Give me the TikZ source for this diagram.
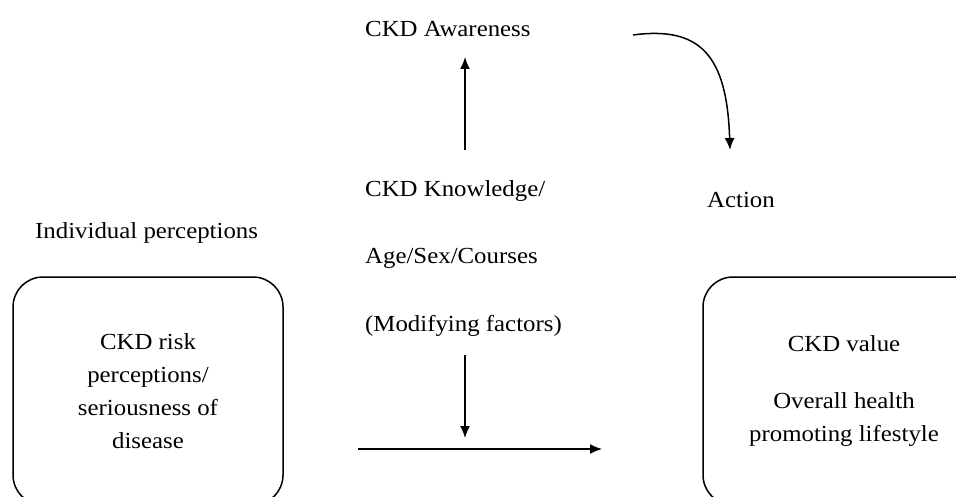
\documentclass[tikz,border=0pt]{standalone}
\usepackage{fontspec}
\setmainfont{Liberation Serif}[FakeStretch=1.08]
\usetikzlibrary{arrows.meta}
\tikzset{
	txt/.style={anchor=base west, inner sep=0pt, font=\fontsize{23}{33}\selectfont},
	roundbox/.style={draw, line width=1.5pt, rounded corners=30pt, align=center, font=\fontsize{23}{33}\selectfont},
	arr/.style={line width=1.5pt, -{Latex[length=12pt,width=10pt]}}
}

\begin{document}
\begin{tikzpicture}[x=1pt, y=-1pt]
		%%%%% START %%%%%
		\useasboundingbox (0, 0) rectangle (956, 497);
		
		\node[txt] (awareness) at (365, 37) {CKD Awareness};
		\node[txt] (knowledge) at (365, 197) {CKD Knowledge/};
		\node[txt] (demog) at (365, 264) {Age/Sex/Courses};
		\node[txt] (modif) at (365, 331) {(Modifying factors)};
		\node[txt] (action) at (707, 208) {Action};
		\node[txt] (indiv) at (35, 239) {Individual perceptions};
		
		\node[roundbox, minimum width=270, minimum height=228] (risk) at (148, 391)
			{CKD risk\\perceptions/\\seriousness of\\disease};
		\node[roundbox, minimum width=282, minimum height=228] (value) at (844, 391)
			{CKD value\\[24pt]Overall health\\promoting lifestyle};
		
		\coordinate (upfrom) at (465, 150);
		\coordinate (upto) at (465, 57);
		\coordinate (curvefrom) at (633, 35);
		\coordinate (curveto) at (730, 150);
		\coordinate (downfrom) at (465, 355);
		\coordinate (downto) at (465, 438);
		\coordinate (hfrom) at (358, 449);
		\coordinate (hto) at (602, 449);
		
		\draw[arr] (upfrom) -- (upto);
		\draw[arr] (curvefrom) .. controls (700, 26) and (727, 55) .. (curveto);
		\draw[arr] (downfrom) -- (downto);
		\draw[arr] (hfrom) -- (hto);
		
		%%%%% END %%%%%
	\end{tikzpicture}
\end{document}
